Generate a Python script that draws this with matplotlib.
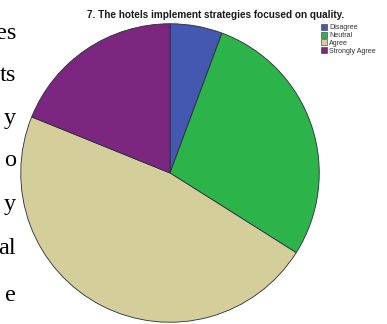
import matplotlib
matplotlib.use("Agg")
import matplotlib.pyplot as plt
from matplotlib.patches import Patch

# responses to item 7
categories = ["Disagree", "Neutral", "Agree", "Strongly Agree"]
counts = [3, 15, 25, 10]
colors = ["#4358ae", "#2cb44a", "#d4ce9a", "#7b2780"]

title = "7. The hotels implement strategies focused on quality."

# ends of the body-text lines running down the left margin
margin_words = ["es", "ts", "y", "o", "y", "al", "e"]
margin_baselines = [39, 81, 124, 166, 210, 254, 301]

W, H = 387, 324
fig = plt.figure(figsize=(W / 100, H / 100), dpi=100)
fig.patch.set_facecolor("white")

# pie axes, square box in pixels
ax = fig.add_axes([20 / W, (H - 323) / H, 300 / W, 300 / H])
ax.pie(counts, colors=colors, startangle=90, counterclock=False,
       radius=1.0,
       wedgeprops=dict(edgecolor="#2b2b3b", linewidth=0.6))
ax.set_xlim(-1.005, 1.005)
ax.set_ylim(-1.005, 1.005)
ax.set_aspect("auto")
ax.axis("off")

fig.text(216 / W, 1 - 15 / H, title, ha="center", va="center",
         fontsize=7.2, fontweight="bold", family="Liberation Sans",
         color="#1a1a1a")

handles = [Patch(facecolor=c, edgecolor="#333333", linewidth=0.4)
           for c in colors]
fig.legend(handles, categories, loc="upper left",
           bbox_to_anchor=(321 / W, 1 - 24 / H), frameon=False,
           prop={"family": "Liberation Sans", "size": 5.1},
           handlelength=0.9, handleheight=0.9, handletextpad=0.25,
           labelspacing=0.05, borderpad=0.0, borderaxespad=0.0,
           labelcolor="#333333")

for word, base in zip(margin_words, margin_baselines):
    fig.text(16 / W, 1 - base / H, word, ha="right", va="baseline",
             fontsize=17.5, family="Liberation Serif", color="black")

fig.savefig("out.png", dpi=100)
